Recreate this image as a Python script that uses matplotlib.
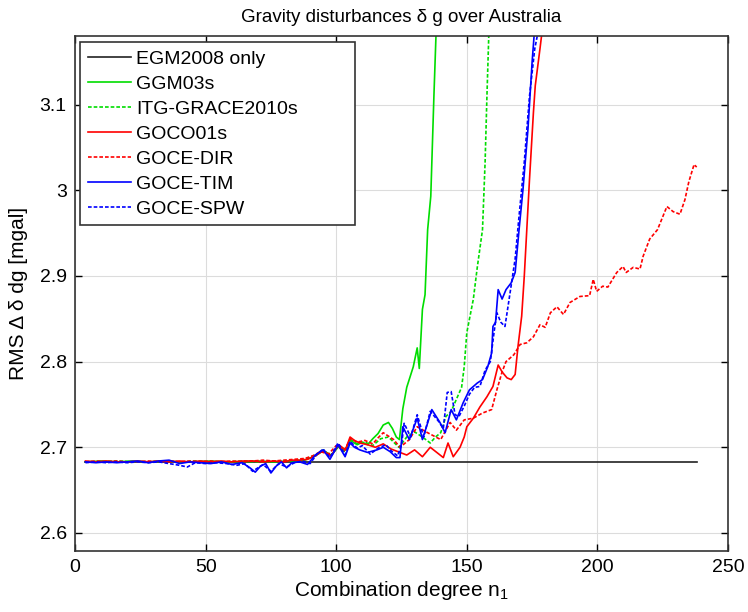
import numpy as np
import matplotlib
matplotlib.use("Agg")
import matplotlib.pyplot as plt

plt.rcParams['font.family'] = ['Liberation Sans', 'DejaVu Sans']
plt.rcParams['mathtext.fontset'] = 'custom'
plt.rcParams['mathtext.rm'] = 'Liberation Sans'

# EGM2008 only (constant reference)
n_egm = [4, 238]
v_egm = [2.683, 2.683]

# GGM03s
n_ggm = [4, 10, 16, 22, 28, 34, 40, 46, 52, 58, 64, 70, 76, 82, 88, 92, 95, 98, 101, 103, 105.5,
         108, 110, 112, 114, 116, 118, 120, 121.5, 123, 124.2, 125.5, 127, 129.5, 131, 131.8,
         133, 134, 135, 136.2, 137.4, 138.3]
v_ggm = [2.683, 2.684, 2.683, 2.684, 2.683, 2.684, 2.683, 2.683, 2.684, 2.683, 2.683, 2.684, 2.683,
         2.684, 2.685, 2.690, 2.696, 2.691, 2.701, 2.695, 2.708, 2.703, 2.706, 2.703, 2.710, 2.716,
         2.726, 2.729, 2.722, 2.712, 2.709, 2.745, 2.770, 2.794, 2.816, 2.792, 2.861, 2.878, 2.954,
         2.993, 3.110, 3.190]

# ITG-GRACE2010s
n_itg = [4, 10, 16, 22, 28, 34, 40, 46, 52, 58, 64, 70, 76, 82, 88, 92, 95, 98, 101, 103.5, 105.5,
         108, 111, 114, 117, 120, 122, 124, 127, 130, 133, 136, 138, 140, 142, 144, 146, 148, 149,
         150, 152.5, 154, 156, 157, 157.7, 158.5]
v_itg = [2.683, 2.683, 2.684, 2.683, 2.683, 2.684, 2.683, 2.684, 2.683, 2.683, 2.684, 2.683, 2.684,
         2.684, 2.686, 2.691, 2.697, 2.690, 2.702, 2.696, 2.709, 2.704, 2.706, 2.702, 2.710, 2.712,
         2.706, 2.700, 2.712, 2.718, 2.712, 2.705, 2.712, 2.717, 2.736, 2.742, 2.756, 2.770, 2.794,
         2.834, 2.873, 2.910, 2.954, 3.033, 3.110, 3.190]

# GOCO01s
n_goco = [4, 8, 12, 16, 20, 24, 28, 32, 36, 40, 44, 48, 52, 56, 60, 64, 68, 72, 76, 80, 83, 86,
          89, 92, 95, 98, 101, 103.5, 105.3, 107, 109, 112, 115, 118, 121, 124.4, 127, 130, 133,
          136, 138.5, 141, 142.8, 144.8, 147.4, 149, 150, 152.5, 155, 157.7, 160, 162, 163.5,
          165.4, 167, 168.5, 169.6, 171, 172, 174, 175.5, 176.2, 178, 179]
v_goco = [2.684, 2.683, 2.684, 2.683, 2.683, 2.684, 2.683, 2.684, 2.683, 2.684, 2.683, 2.684,
          2.683, 2.684, 2.683, 2.684, 2.684, 2.683, 2.684, 2.683, 2.685, 2.685, 2.686, 2.690,
          2.696, 2.690, 2.703, 2.697, 2.712, 2.708, 2.705, 2.703, 2.700, 2.704, 2.698, 2.694,
          2.691, 2.697, 2.689, 2.700, 2.694, 2.688, 2.705, 2.689, 2.700, 2.712, 2.724, 2.734,
          2.747, 2.759, 2.771, 2.796, 2.788, 2.781, 2.779, 2.785, 2.818, 2.853, 2.900, 3.013,
          3.091, 3.122, 3.165, 3.190]

# GOCE-DIR
n_dir = [4, 8, 12, 16, 20, 24, 28, 32, 36, 40, 44, 48, 52, 56, 60, 64, 68, 72, 76, 80, 84, 88,
         91, 94, 97, 100, 103, 105.5, 108, 111, 114, 116, 118, 120, 122, 124.4, 128, 131, 135, 140,
         143.6, 146, 149, 152.5, 156, 159.5, 161.5, 163.5, 165, 168, 170.4, 173, 175.5, 178, 180,
         182, 184.5, 187, 189.5, 193.3, 197, 198.4, 199.7, 202, 204, 207.4, 209.8, 211, 213.7,
         216.3, 217.5, 220, 223, 226.6, 229, 231.6, 233.5, 235, 237, 238]
v_dir = [2.683, 2.684, 2.683, 2.684, 2.683, 2.683, 2.684, 2.683, 2.684, 2.683, 2.684, 2.683,
         2.684, 2.683, 2.684, 2.683, 2.684, 2.685, 2.684, 2.685, 2.686, 2.687, 2.690, 2.695,
         2.692, 2.702, 2.696, 2.710, 2.706, 2.708, 2.704, 2.711, 2.717, 2.713, 2.709, 2.700,
         2.709, 2.724, 2.717, 2.709, 2.729, 2.720, 2.732, 2.734, 2.740, 2.744, 2.767, 2.788,
         2.800, 2.808, 2.820, 2.822, 2.829, 2.843, 2.840, 2.857, 2.864, 2.855, 2.869, 2.876,
         2.877, 2.896, 2.882, 2.888, 2.887, 2.904, 2.911, 2.904, 2.910, 2.908, 2.923, 2.943,
         2.954, 2.981, 2.975, 2.972, 2.989, 3.010, 3.030, 3.027]

# GOCE-TIM
n_tim = [4, 8, 12, 16, 20, 24, 28, 32, 36, 40, 44, 48, 52, 56, 60, 64, 67, 69, 71, 73, 75, 77,
         79, 81, 83, 86, 89, 92, 95, 97.6, 100.7, 103.4, 105.3, 107, 109, 112, 115.6, 118, 120.6,
         123, 124.4, 125.5, 128, 131, 133, 136.6, 139.7, 141.7, 144, 146, 148.6, 151, 154, 156,
         158, 159.5, 160, 161, 162, 163.5, 165, 167, 168.5, 170, 171.5, 173.4, 175, 176]
v_tim = [2.683, 2.682, 2.683, 2.682, 2.683, 2.684, 2.682, 2.684, 2.685, 2.681, 2.683, 2.682,
         2.681, 2.683, 2.680, 2.682, 2.676, 2.671, 2.678, 2.681, 2.670, 2.678, 2.683, 2.676,
         2.682, 2.683, 2.680, 2.691, 2.697, 2.686, 2.703, 2.689, 2.705, 2.700, 2.697, 2.694,
         2.697, 2.700, 2.695, 2.688, 2.688, 2.724, 2.709, 2.734, 2.709, 2.744, 2.729, 2.717,
         2.744, 2.732, 2.752, 2.767, 2.775, 2.779, 2.794, 2.810, 2.841, 2.846, 2.884, 2.873,
         2.884, 2.892, 2.904, 2.954, 3.001, 3.071, 3.150, 3.190]

# GOCE-SPW
n_spw = [4, 8, 12, 16, 20, 24, 28, 32, 36, 40, 43, 46, 50, 54, 58, 62, 65, 68, 70, 72, 75, 78,
         81, 84, 87, 90, 92.6, 95, 97.6, 100.7, 103.4, 105.3, 108, 110, 113, 116, 119, 121, 123.5,
         125, 126, 128.5, 131, 133.5, 136, 139, 141, 142.5, 144, 145.5, 147, 149, 151, 153, 155,
         157, 159, 160.5, 161.5, 163, 164.6, 166, 168.5, 170, 172, 174, 176, 177.6]
v_spw = [2.682, 2.683, 2.682, 2.683, 2.682, 2.683, 2.682, 2.683, 2.681, 2.679, 2.677, 2.682,
         2.681, 2.682, 2.681, 2.679, 2.681, 2.672, 2.676, 2.680, 2.672, 2.681, 2.677, 2.682,
         2.684, 2.681, 2.692, 2.698, 2.688, 2.705, 2.691, 2.707, 2.699, 2.702, 2.692, 2.699,
         2.703, 2.696, 2.690, 2.703, 2.728, 2.712, 2.738, 2.712, 2.742, 2.731, 2.722, 2.764,
         2.765, 2.738, 2.736, 2.748, 2.762, 2.770, 2.771, 2.790, 2.800, 2.836, 2.857, 2.846,
         2.841, 2.869, 2.920, 2.970, 3.033, 3.110, 3.165, 3.190]

green = '#00dd00'
dash = (0, (2.2, 1.2))

fig = plt.figure(figsize=(7.48, 6.12), dpi=100)
ax = fig.add_axes([0.1003, 0.0997, 0.873, 0.8415])

ax.plot(n_egm, v_egm, color='#222222', lw=1.2, label='EGM2008 only')
ax.plot(n_ggm, v_ggm, color=green, lw=1.2, label='GGM03s')
ax.plot(n_itg, v_itg, color=green, lw=1.2, linestyle=dash, label='ITG-GRACE2010s')
ax.plot(n_goco, v_goco, color='red', lw=1.2, label='GOCO01s')
ax.plot(n_dir, v_dir, color='red', lw=1.2, linestyle=dash, label='GOCE-DIR')
ax.plot(n_tim, v_tim, color='blue', lw=1.2, label='GOCE-TIM')
ax.plot(n_spw, v_spw, color='blue', lw=1.2, linestyle=dash, label='GOCE-SPW')

ax.set_xlim(0, 250)
ax.set_ylim(2.579, 3.18)
ax.set_xticks([0, 50, 100, 150, 200, 250])
ax.set_yticks([2.6, 2.7, 2.8, 2.9, 3.0, 3.1])
ax.set_yticklabels(['2.6', '2.7', '2.8', '2.9', '3', '3.1'])
ax.grid(True, color='#dcdcdc', lw=0.8)
ax.set_axisbelow(True)
ax.tick_params(direction='in', top=True, right=True, length=5, labelsize=14, width=1, pad=6)
for s in ax.spines.values():
    s.set_linewidth(1.2)
    s.set_color('#333333')

ax.set_title('Gravity disturbances δ g over Australia', fontsize=13.5, pad=10)
ax.set_xlabel(r'Combination degree n$_\mathregular{1}$', fontsize=15, labelpad=2)
ax.set_ylabel('RMS Δ δ dg [mgal]', fontsize=15, labelpad=8)

leg = ax.legend(loc='upper left', bbox_to_anchor=(0.0077, 0.988, 0.421, 0.0), mode='expand',
                fontsize=14, handlelength=2.2, handletextpad=0.3, borderaxespad=0,
                labelspacing=0.38, fancybox=False, framealpha=1, edgecolor='#333333')
leg.get_frame().set_linewidth(1.2)

fig.savefig('out.png', dpi=100)
